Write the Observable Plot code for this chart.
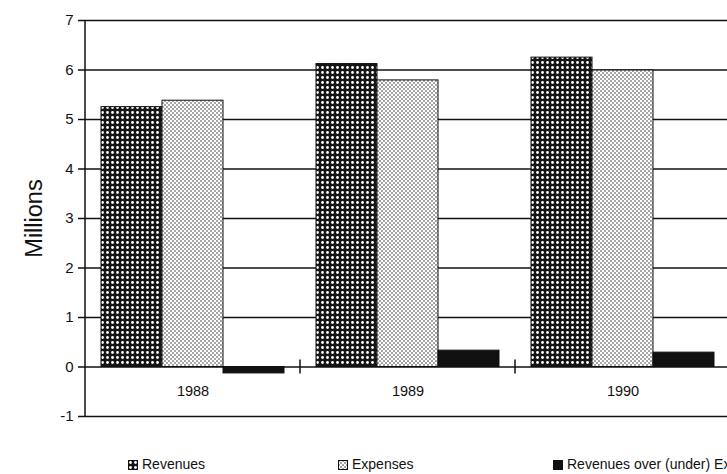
<!DOCTYPE html>
<html><head><meta charset="utf-8">
<script src="https://cdn.jsdelivr.net/npm/d3@7"></script>
<script src="https://cdn.jsdelivr.net/npm/@observablehq/plot@0.6"></script>
<style>
html,body{margin:0;padding:0;background:#fff;overflow:hidden;width:727px;height:474px}
#chart svg{display:block}
#legend{position:relative;height:40px;font-family:"Liberation Sans",Arial,Helvetica,sans-serif;font-size:14px;color:#111}
.item{position:absolute;top:0;display:flex;align-items:center;white-space:nowrap;line-height:15px}
.item svg{margin-right:4px;display:block}
</style></head><body>
<div id="chart"></div><div id="legend"></div>
<script>
const years = [1988, 1989, 1990];
const seriesNames = ["Revenues", "Expenses", "Revenues over (under) Expenses"];
const revenues = [5.25, 6.12, 6.25];
const expenses = [5.38, 5.79, 5.99];
const net = [-0.13, 0.33, 0.29];
const yTicks = [-1, 0, 1, 2, 3, 4, 5, 6, 7];
const fills = ["url(#patRev)", "url(#patExp)", "#111"];
const legendLeft = [128, 338, 553];

const data = years.flatMap((yr, i) => [
  {year: yr, series: seriesNames[0], value: revenues[i]},
  {year: yr, series: seriesNames[1], value: expenses[i]},
  {year: yr, series: seriesNames[2], value: net[i]}
]);

const font = '"Liberation Sans", Arial, Helvetica, sans-serif';
const plot = Plot.plot({
  width: 745, height: 430,
  marginLeft: 85, marginRight: 15, marginTop: 20, marginBottom: 14,
  style: {fontFamily: font, fontSize: "13px", color: "#111", background: "white", overflow: "visible", maxWidth: "none"},
  fx: {domain: years, paddingInner: 0, paddingOuter: 0, label: null, axis: null},
  x: {domain: seriesNames, paddingInner: 0, paddingOuter: 0.25, axis: null},
  y: {domain: [-1, 7], axis: null},
  color: {domain: seriesNames, range: fills},
  marks: [
    Plot.ruleY(yTicks, {stroke: "#111", strokeWidth: 1.5}),
    Plot.barY(data, {fx: "year", x: "series", y: "value", fill: "series", stroke: "#111", strokeWidth: 1}),
    Plot.text(years, {fx: d => d, y: () => -0.5, text: d => String(d), fontSize: 14.5, fill: "#111"}),
    Plot.axisY(yTicks, {anchor: "left", tickSize: 7, tickPadding: 5, fontSize: 15, label: null, tickFormat: d => String(d), stroke: "#111", strokeWidth: 1.5}),
    Plot.text(["Millions"], {fx: () => years[0], frameAnchor: "left", textAnchor: "middle", dx: -51, rotate: -90, fontSize: 23.5, text: d => d, fill: "#111"})
  ]
});

const svg = d3.select(plot);
const defs = svg.insert("defs", ":first-child");
const pr = defs.append("pattern").attr("id", "patRev").attr("patternUnits", "userSpaceOnUse").attr("width", 5).attr("height", 5);
pr.append("rect").attr("width", 5).attr("height", 5).attr("fill", "#151515");
pr.append("circle").attr("cx", 2.5).attr("cy", 2.5).attr("r", 1.4).attr("fill", "#fff");
const pe = defs.append("pattern").attr("id", "patExp").attr("patternUnits", "userSpaceOnUse").attr("width", 4).attr("height", 4);
pe.append("rect").attr("width", 4).attr("height", 4).attr("fill", "#fff");
pe.append("circle").attr("cx", 1).attr("cy", 1).attr("r", 0.8).attr("fill", "#333");
pe.append("circle").attr("cx", 3).attr("cy", 3).attr("r", 0.8).attr("fill", "#333");

// axis line and group separators from the plot's own scales
const fx = plot.scale("fx"), y = plot.scale("y");
const bw = fx.bandwidth ?? ((fx.range[1] - fx.range[0]) / years.length);
const extra = svg.append("g").attr("stroke", "#111").attr("stroke-width", 1.5);
const x0 = fx.apply(years[0]);
extra.append("line").attr("x1", x0).attr("x2", x0).attr("y1", y.apply(7)).attr("y2", y.apply(-1));
years.forEach(yr => {
  const xe = fx.apply(yr) + bw;
  extra.append("line").attr("x1", xe).attr("x2", xe).attr("y1", y.apply(0) - 7).attr("y2", y.apply(0) + 7);
});

document.getElementById("chart").appendChild(plot);

const legend = d3.select("#legend").style("margin-top", "27px");
seriesNames.forEach((name, i) => {
  const it = legend.append("div").attr("class", "item").style("left", legendLeft[i] + "px");
  const s = it.append("svg").attr("width", 10).attr("height", 10);
  s.append("rect").attr("x", 0.5).attr("y", 0.5).attr("width", 9).attr("height", 9).attr("fill", fills[i]).attr("stroke", "#111");
  it.append("span").text(name);
});
</script>
</body></html>
